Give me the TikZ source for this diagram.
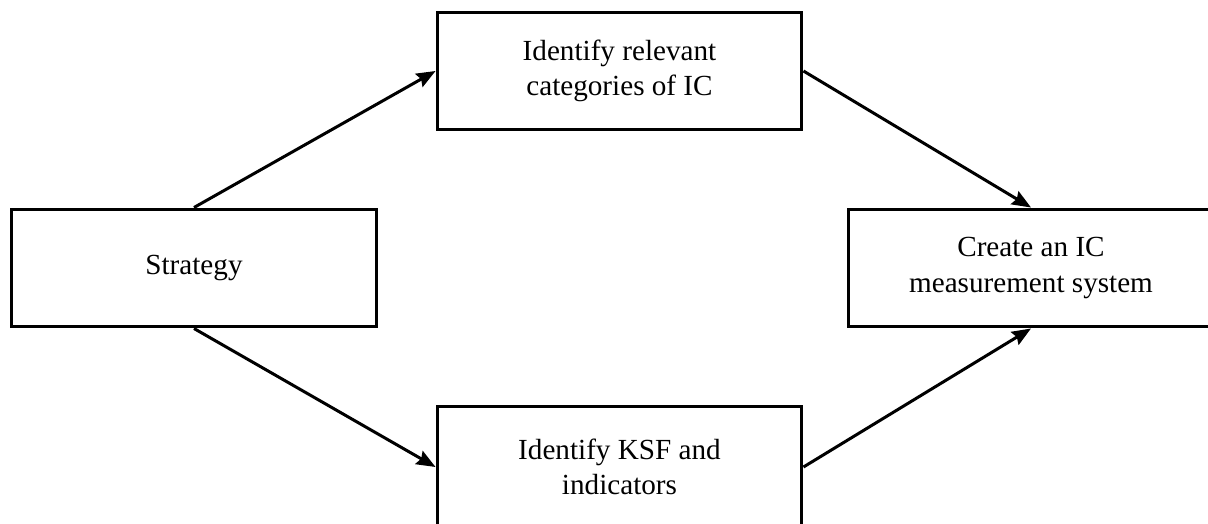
\documentclass[tikz,border=0pt]{standalone}
\usepackage{fontspec}
\setmainfont{Liberation Serif}
\usetikzlibrary{arrows.meta,positioning}
\tikzset{box/.style={draw,line width=0.06cm,align=center,minimum width=7.3cm,minimum height=2.36cm,inner sep=3pt,font=\fontsize{16.6}{20}\selectfont},
  arr/.style={-{Stealth[length=0.38cm,width=0.3cm,inset=0.05cm]},line width=0.06cm}}

\begin{document}
\begin{tikzpicture}[x=0.02cm,y=-0.02cm]
\useasboundingbox (0,0) rectangle (1208,524);
\node[box] (strat) at (194,268) {Strategy};
\node[box] (cat) at (619.5,71) {Identify relevant\\categories of IC};
\node[box,minimum height=2.44cm] (ksf) at (619.5,467) {Identify KSF and\\indicators};
\node[box] (meas) at (1031,268) {Create an IC\\measurement system};
\draw[arr] (strat.north) -- (cat.west);
\draw[arr] (strat.south) -- (ksf.west);
\draw[arr] (cat.east) -- (meas.north);
\draw[arr] (ksf.east) -- (meas.south);
\end{tikzpicture}
\end{document}
